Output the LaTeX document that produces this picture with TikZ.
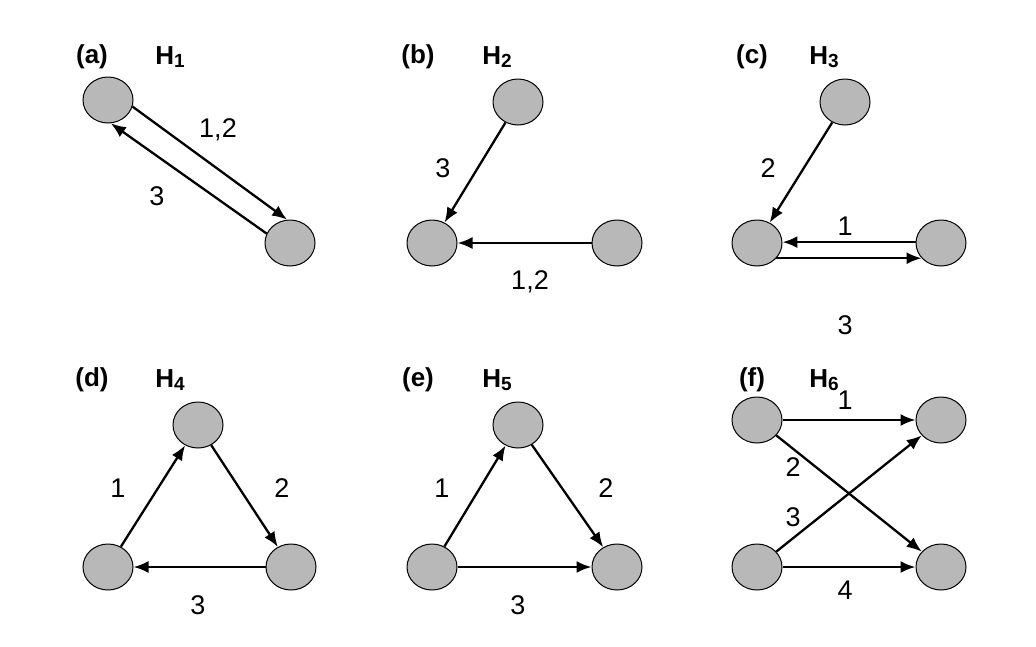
\documentclass[tikz,border=0pt]{standalone}
\usepackage{fontspec}
\setmainfont{Liberation Sans}
\usetikzlibrary{arrows.meta,shapes.geometric}
\begin{document}
\begin{tikzpicture}[x=1pt,y=-1pt,
  vtx/.style={ellipse,draw=black,line width=1pt,fill=black!28,minimum width=50pt,minimum height=46pt,inner sep=0pt},
  edge/.style={line width=2.3pt,-{Latex[length=15pt,width=12pt]}},
  lbl/.style={font=\fontsize{27}{27}\selectfont},
  ttl/.style={font=\fontsize{26}{26}\selectfont\bfseries}]
\newcommand{\hsub}[1]{H\raisebox{-3pt}{\fontsize{19}{19}\selectfont\bfseries #1}}
\useasboundingbox (0,0) rectangle (1036,646);
% titles
\node[ttl] (ta) at (92,57) {(a)}; \node[ttl] (ha) at (170,57) {\hsub{1}};
\node[ttl] (tb) at (418,57) {(b)}; \node[ttl] (hb) at (497,57) {\hsub{2}};
\node[ttl] (tc) at (752,57) {(c)}; \node[ttl] (hc) at (824,57) {\hsub{3}};
\node[ttl] (td) at (92,380) {(d)}; \node[ttl] (hd) at (170,380) {\hsub{4}};
\node[ttl] (te) at (418,380) {(e)}; \node[ttl] (he) at (497,380) {\hsub{5}};
\node[ttl] (tf) at (752,380) {(f)}; \node[ttl] (hf) at (824,380) {\hsub{6}};
% (a)
\node[vtx] (a1) at (108,100) {}; \node[vtx] (a2) at (290,243) {};
\draw[edge] (a1.-15) -- (a2.97);
\draw[edge] (a2.158) -- (a1.-83);
\node[lbl] (la1) at (218,130) {1,2}; \node[lbl] (la2) at (157,196) {3};
% (b)
\node[vtx] (b1) at (518,102) {}; \node[vtx] (b2) at (432,243) {}; \node[vtx] (b3) at (617,243) {};
\draw[edge] (b1) -- (b2);
\draw[edge] (b3) -- (b2);
\node[lbl] (lb1) at (443,168) {3}; \node[lbl] (lb2) at (530,282) {1,2};
% (c)
\node[vtx] (c1) at (845,102) {}; \node[vtx] (c2) at (757,243) {}; \node[vtx] (c3) at (941,243) {};
\draw[edge] (c1) -- (c2);
\draw[edge] (c3.178) -- (c2.2);
\draw[edge] (c2.-38) -- (c3.-142);
\node[lbl] (lc1) at (768,168) {2}; \node[lbl] (lc2) at (845,226) {1}; \node[lbl] (lc3) at (845,325) {3};
% (d)
\node[vtx] (d1) at (198,425) {}; \node[vtx] (d2) at (108,567) {}; \node[vtx] (d3) at (291,567) {};
\draw[edge] (d2) -- (d1); \draw[edge] (d1) -- (d3); \draw[edge] (d3) -- (d2);
\node[lbl] (ld1) at (118,488) {1}; \node[lbl] (ld2) at (282,488) {2}; \node[lbl] (ld3) at (198,605) {3};
% (e)
\node[vtx] (e1) at (518,425) {}; \node[vtx] (e2) at (432,567) {}; \node[vtx] (e3) at (617,567) {};
\draw[edge] (e2) -- (e1); \draw[edge] (e1) -- (e3); \draw[edge] (e2) -- (e3);
\node[lbl] (le1) at (442,488) {1}; \node[lbl] (le2) at (606,488) {2}; \node[lbl] (le3) at (518,605) {3};
% (f)
\node[vtx] (f1) at (757,420) {}; \node[vtx] (f2) at (941,420) {};
\node[vtx] (f3) at (757,567) {}; \node[vtx] (f4) at (941,567) {};
\draw[edge] (f1) -- (f2); \draw[edge] (f1) -- (f4); \draw[edge] (f3) -- (f2); \draw[edge] (f3) -- (f4);
\node[lbl] (lf1) at (845,400) {1}; \node[lbl] (lf2) at (793,467) {2};
\node[lbl] (lf3) at (793,517) {3}; \node[lbl] (lf4) at (845,590) {4};
\end{tikzpicture}
\end{document}
